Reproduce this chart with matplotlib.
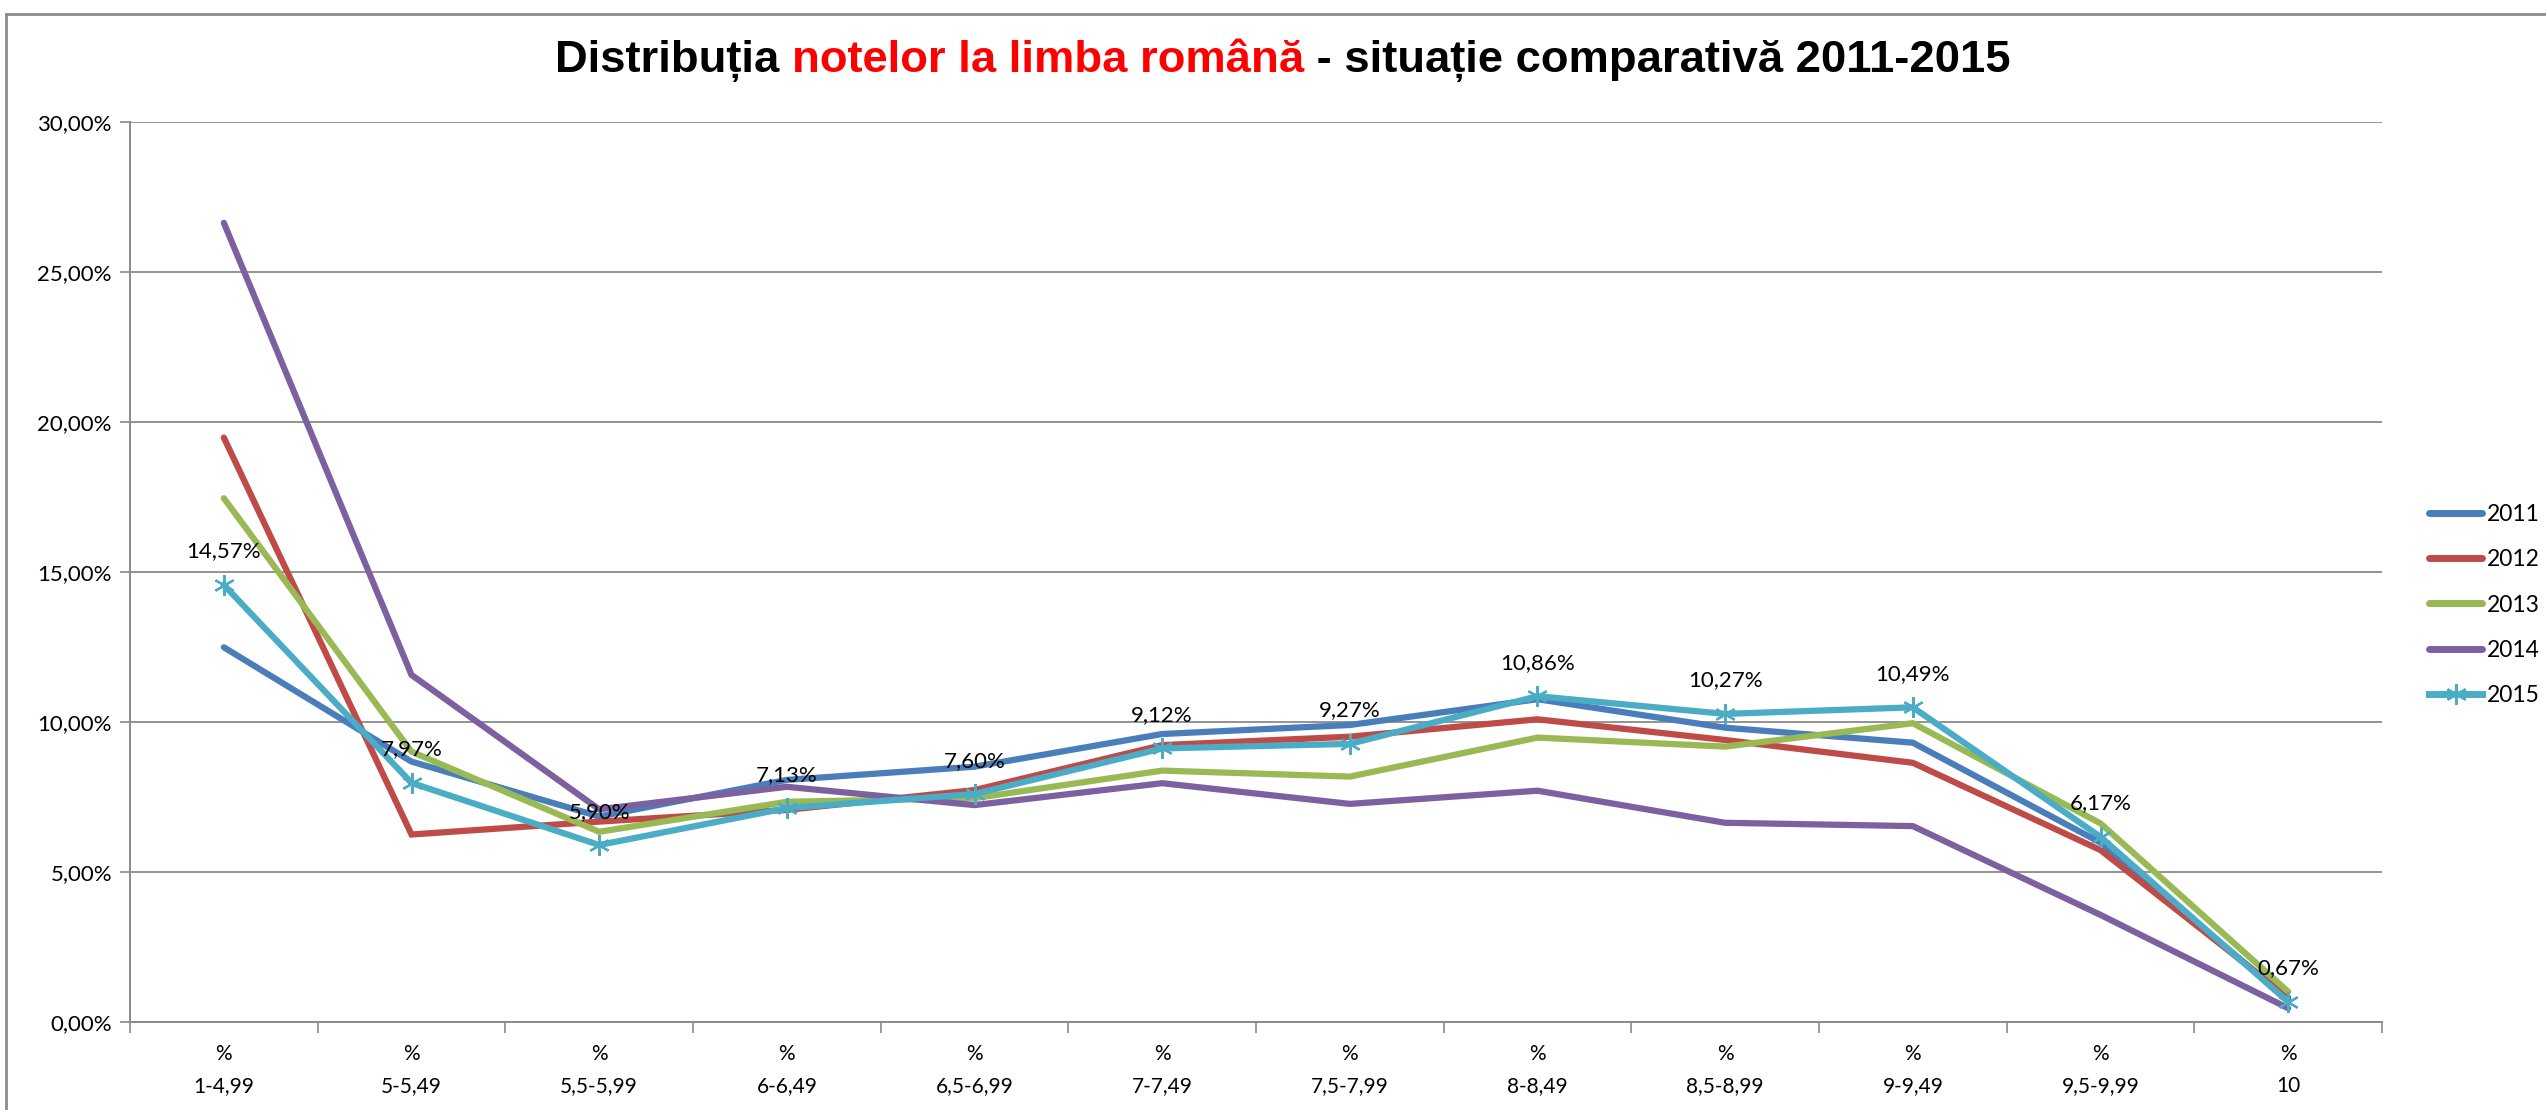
import matplotlib
matplotlib.use("Agg")
import matplotlib.pyplot as plt
from matplotlib import font_manager
from matplotlib.lines import Line2D
from matplotlib.ticker import FuncFormatter

# ---------------------------------------------------------
# date
# ---------------------------------------------------------
categories = ["1-4,99", "5-5,49", "5,5-5,99", "6-6,49", "6,5-6,99", "7-7,49",
              "7,5-7,99", "8-8,49", "8,5-8,99", "9-9,49", "9,5-9,99", "10"]
years = ["2011", "2012", "2013", "2014", "2015"]

v2011 = [12.49, 8.68, 6.85, 8.07, 8.51, 9.60, 9.90, 10.76, 9.81, 9.31, 5.98, 0.76]
v2012 = [19.48, 6.25, 6.68, 7.07, 7.73, 9.23, 9.51, 10.09, 9.40, 8.64, 5.73, 0.82]
v2013 = [17.46, 9.01, 6.34, 7.34, 7.46, 8.38, 8.18, 9.48, 9.18, 9.96, 6.62, 1.01]
v2014 = [26.64, 11.57, 7.09, 7.84, 7.23, 7.96, 7.27, 7.71, 6.64, 6.53, 3.57, 0.46]
v2015 = [14.57, 7.97, 5.90, 7.13, 7.60, 9.12, 9.27, 10.86, 10.27, 10.49, 6.17, 0.67]

series = [v2011, v2012, v2013, v2014, v2015]
colors = ["#4A7EBB", "#BE4B48", "#98B954", "#7D60A0", "#4BACC6"]

installed = {f.name for f in font_manager.fontManager.ttflist}
label_font = "Lato" if "Lato" in installed else "DejaVu Sans"
title_font = "Liberation Sans Narrow" if "Liberation Sans Narrow" in installed else "Liberation Sans"


def pct(v):
    return f"{v:.2f}%".replace(".", ",")


fig = plt.figure(figsize=(25.46, 11.10), dpi=100)
ax = fig.add_axes([130 / 2546, 1 - 1022 / 1110, (2382 - 130) / 2546, (1022 - 122) / 1110])

x = list(range(len(categories)))
for vals, yr, c in zip(series, years, colors):
    if yr == "2015":
        ax.plot(x, vals, color=c, lw=4.5, marker=(6, 2, 0), ms=15, mew=1.6,
                solid_capstyle="round", label=yr, zorder=5)
    else:
        ax.plot(x, vals, color=c, lw=4.5, solid_capstyle="round",
                solid_joinstyle="miter", label=yr, zorder=3)

# etichete pentru 2015
for xi, v in zip(x, v2015):
    ax.annotate(pct(v), (xi, v), xytext=(0, 24), textcoords="offset points",
                ha="center", va="center", fontsize=16, family=label_font, zorder=6)

# axe
ax.set_xlim(-0.5, len(categories) - 0.5)
ax.set_ylim(0, 30)
ax.set_yticks(range(0, 31, 5))
ax.yaxis.set_major_formatter(FuncFormatter(lambda v, p: pct(v)))
ax.grid(axis="y", color="#8a8a8a", lw=1.3)
ax.set_axisbelow(True)

ax.set_xticks(x)
ax.set_xticklabels(["%\n" + c for c in categories], linespacing=1.75)
ax.set_xticks([i - 0.5 for i in range(len(categories) + 1)], minor=True)
ax.tick_params(axis="x", which="major", length=0, pad=16, labelsize=15)
ax.tick_params(axis="x", which="minor", length=8, width=1.2, color="#8a8a8a")
ax.tick_params(axis="y", length=7, width=1.2, color="#8a8a8a", pad=6, labelsize=16)
for lab in ax.get_xticklabels() + ax.get_yticklabels():
    lab.set_family(label_font)

for s in ["top", "right"]:
    ax.spines[s].set_visible(False)
for s in ["left", "bottom"]:
    ax.spines[s].set_color("#8a8a8a")
    ax.spines[s].set_linewidth(1.4)

# legenda
handles = [Line2D([], [], color=c, lw=5, solid_capstyle="round") for c in colors[:4]]
handles.append(Line2D([], [], color=colors[4], lw=5, marker=(6, 2, 0), ms=15, mew=1.6))
fig.legend(handles, years, loc="center left", bbox_to_anchor=(2418 / 2546, 1 - 605 / 1110),
           frameon=False, borderpad=0, handlelength=2.3, handletextpad=0.2,
           labelspacing=1.05, prop={"family": label_font, "size": 16.5})

# chenar
fig.add_artist(plt.Line2D([6 / 2546, 6 / 2546], [0, 1 - 14 / 1110], transform=fig.transFigure,
                          color="#8c8c8c", lw=2))
fig.add_artist(plt.Line2D([6 / 2546, 1], [1 - 14 / 1110, 1 - 14 / 1110], transform=fig.transFigure,
                          color="#8c8c8c", lw=2))

# titlu in trei culori
parts = [("Distribuția ", "black"), ("notelor la limba română", "red"),
         (" - situație comparativă 2011-2015", "black")]
renderer = fig.canvas.get_renderer()
texts = []
for s, c in parts:
    t = fig.text(0, 1 - 61 / 1110, s, color=c, fontsize=32.7, fontweight="bold",
                 family=title_font, va="center", ha="left")
    texts.append(t)
widths = [t.get_window_extent(renderer).width for t in texts]
total = sum(widths)
x0 = 1283 - total / 2
for t, w in zip(texts, widths):
    t.set_x(x0 / 2546)
    x0 += w

fig.savefig("out.png", dpi=100)
